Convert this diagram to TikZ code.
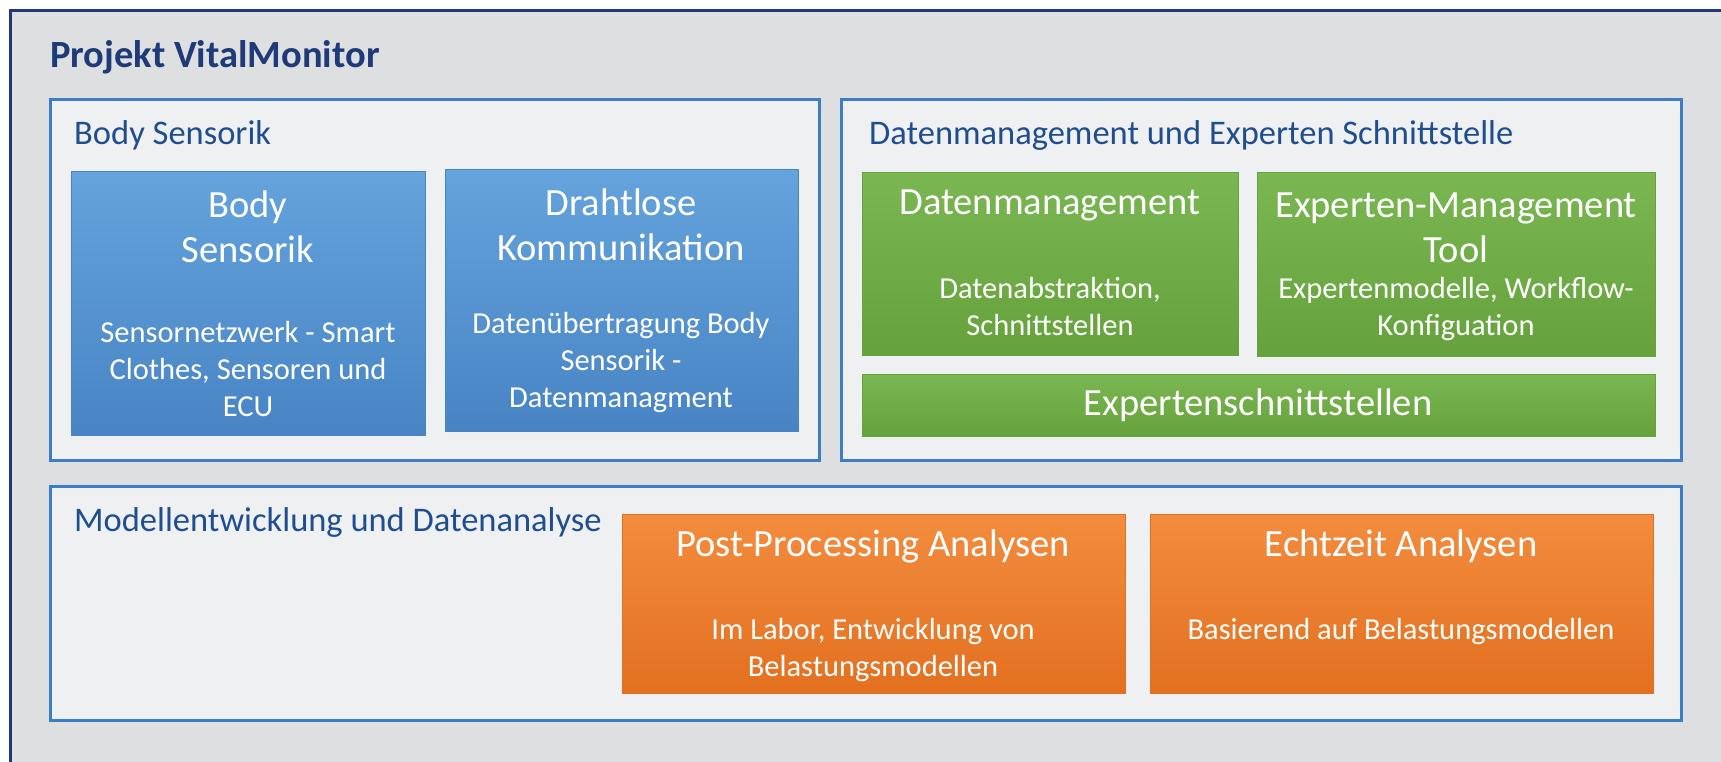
\documentclass[tikz,border=0pt]{standalone}
\usepackage{fontspec}
\setmainfont{Carlito}
\definecolor{framenavy}{HTML}{1F3A78}
\definecolor{outergray}{HTML}{DEDFE0}
\definecolor{panelgray}{HTML}{EFF0F1}
\definecolor{panelblue}{HTML}{3C7DC4}
\definecolor{labelblue}{HTML}{1F4E8F}
\definecolor{sensblue}{HTML}{64A3DC}
\definecolor{sensbluedark}{HTML}{4884C4}
\definecolor{datagreen}{HTML}{7AB651}
\definecolor{datagreendark}{HTML}{65A23C}
\definecolor{anaorange}{HTML}{F38C3E}
\definecolor{anaorangedark}{HTML}{E2701F}
\tikzset{
	panel/.style={draw=panelblue, line width=2.5pt, fill=panelgray, anchor=north west, inner sep=0pt},
	tile/.style={anchor=north west, inner sep=0pt, line width=1pt},
	sensbox/.style={tile, draw=sensbluedark, top color=sensblue, bottom color=sensbluedark},
	databox/.style={tile, draw=datagreendark, top color=datagreen, bottom color=datagreendark},
	anabox/.style={tile, draw=anaorangedark, top color=anaorange, bottom color=anaorangedark},
	panellabel/.style={text=labelblue, font=\fontsize{34.5}{39}\selectfont, anchor=base west, inner sep=0pt},
	tiletitle/.style={text=white, font=\fontsize{38.5}{45}\selectfont, align=center},
	tiletext/.style={text=white, font=\fontsize{30.5}{37}\selectfont, align=center}
}
\begin{document}
\begin{tikzpicture}[x=1pt, y=-1pt]
	\useasboundingbox (0,0) rectangle (1721,761);
	\node[draw=framenavy, line width=2.5pt, fill=outergray, anchor=north west, inner sep=0pt,
		minimum width=1740pt, minimum height=780pt] (frame) at (9,9) {};
	\node[text=framenavy, font=\fontsize{38.5}{42}\selectfont\bfseries, anchor=base west, inner sep=0pt] (title) at (50,67) {Projekt VitalMonitor};
	
	\node[panel, minimum width=769pt, minimum height=361pt] (sensorik) at (49,98) {};
	\node[panel, minimum width=840pt, minimum height=361pt] (datamgmt) at (840,98) {};
	\node[panel, minimum width=1631pt, minimum height=234pt] (analyse) at (49,485) {};
	
	\node[panellabel] (sensoriklabel) at (74,144) {Body Sensorik};
	\node[panellabel] (datamgmtlabel) at (869,144) {Datenmanagement und Experten Schnittstelle};
	\node[panellabel] (analyselabel) at (74,531) {Modellentwicklung und Datenanalyse};
	
	\node[sensbox, minimum width=354pt, minimum height=264pt] (body) at (71,171) {};
	\node[sensbox, minimum width=353pt, minimum height=262pt] (funk) at (445,169) {};
	\node[tiletitle] (bodytitle) at (248,227) {Body\\Sensorik};
	\node[tiletext] (bodytext) at (248,369) {Sensornetzwerk - Smart\\Clothes, Sensoren und\\ECU};
	\node[tiletitle] (funktitle) at (621,225) {Drahtlose\\Kommunikation};
	\node[tiletext] (funktext) at (621,363) {Datenübertragung Body\\Sensorik -\\Datenmanagment};
	
	\node[databox, minimum width=376pt, minimum height=183pt] (daten) at (862,172) {};
	\node[databox, minimum width=398pt, minimum height=184pt] (experten) at (1257,172) {};
	\node[databox, minimum width=793pt, minimum height=62pt] (schnitt) at (862,374) {};
	\node[tiletitle] (datentitle) at (1050,205) {Datenmanagement};
	\node[tiletext] (datentext) at (1050,307) {Datenabstraktion,\\Schnittstellen};
	\node[tiletitle] (expertentitle) at (1456,228) {Experten-Management\\Tool};
	\node[tiletext] (expertentext) at (1456,309) {Expertenmodelle, Workflow-\\Konfiguation};
	\node[tiletitle] (schnitttitle) at (1258,405) {Expertenschnittstellen};
	
	\node[anabox, minimum width=503pt, minimum height=179pt] (post) at (622,514) {};
	\node[anabox, minimum width=503pt, minimum height=179pt] (echtzeit) at (1150,514) {};
	\node[tiletitle] (posttitle) at (873,546) {Post-Processing Analysen};
	\node[tiletext] (posttext) at (873,650) {Im Labor, Entwicklung von\\Belastungsmodellen};
	\node[tiletitle] (echtzeittitle) at (1401,546) {Echtzeit Analysen};
	\node[tiletext] (echtzeittext) at (1401,632) {Basierend auf Belastungsmodellen};
\end{tikzpicture}
\end{document}
